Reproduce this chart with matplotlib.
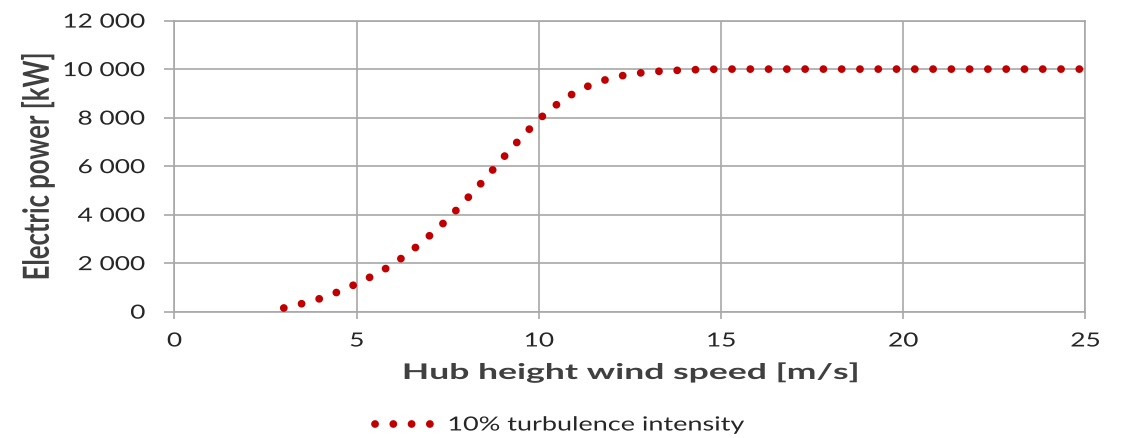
import matplotlib
matplotlib.use("Agg")
import matplotlib.pyplot as plt
from matplotlib.ticker import FuncFormatter, MultipleLocator
from matplotlib.patheffects import AbstractPathEffect
from matplotlib.transforms import Affine2D

wind_speed = [3.0, 3.5, 4.0, 4.5, 5.0, 5.5, 6.0, 6.5, 7.0, 7.5, 8.0, 8.5, 9.0, 9.5,
              10.0, 10.5, 11.0, 11.5, 12.0, 12.5, 13.0, 13.5, 14.0, 14.5, 15.0,
              15.5, 16.0, 16.5, 17.0, 17.5, 18.0, 18.5, 19.0, 19.5, 20.0, 20.5,
              21.0, 21.5, 22.0, 22.5, 23.0, 23.5, 24.0, 24.5, 25.0]
power_kw = [150, 330, 540, 820, 1150, 1520, 1950, 2500, 3130, 3810, 4610, 5430, 6310, 7150,
            7930, 8550, 9050, 9400, 9640, 9790, 9880, 9930, 9960, 9985, 10000,
            10000, 10000, 10000, 10000, 10000, 10000, 10000, 10000, 10000, 10000, 10000,
            10000, 10000, 10000, 10000, 10000, 10000, 10000, 10000, 10000]
series_label = "10% turbulence intensity"
x_label = "Hub height wind speed [m/s]"
y_label = "Electric power [kW]"

FONT = "Lato"
GRID = "#a8a8a8"
RED = "#c00000"


class HStretch(AbstractPathEffect):
    """Widen text horizontally (display x) about an anchor of its ink box."""

    def __init__(self, sx=1.4, anchor="center"):
        super().__init__()
        self.sx = sx
        self.anchor = anchor

    def draw_path(self, renderer, gc, tpath, affine, rgbFace=None):
        verts = affine.transform(tpath.vertices)
        if len(verts) == 0:
            renderer.draw_path(gc, tpath, affine, rgbFace)
            return
        xmin, xmax = verts[:, 0].min(), verts[:, 0].max()
        x0 = {"center": 0.5 * (xmin + xmax), "left": xmin, "right": xmax}[self.anchor]
        t = affine + Affine2D().translate(-x0, 0).scale(self.sx, 1.0).translate(x0, 0)
        renderer.draw_path(gc, tpath, t, rgbFace)


fig = plt.figure(figsize=(11.22, 4.38), dpi=100)
ax = fig.add_axes([0.1555, 0.2885, 0.8118, 0.6645])

ax.plot(wind_speed, power_kw, color=RED, linewidth=5.6,
        linestyle=(0, (0.01, 2.34)), dash_capstyle="round",
        solid_capstyle="round", label=series_label, zorder=3)

ax.set_xlim(0, 25)
ax.set_ylim(0, 12000)
ax.xaxis.set_major_locator(MultipleLocator(5))
ax.yaxis.set_major_locator(MultipleLocator(2000))
ax.yaxis.set_major_formatter(FuncFormatter(lambda v, p: f"{int(v):,}".replace(",", " ")))

ax.grid(True, color=GRID, linewidth=1.2, zorder=0)
ax.set_axisbelow(True)
for s in ax.spines.values():
    s.set_color(GRID)
    s.set_linewidth(1.2)

ax.tick_params(axis="y", length=7, width=1.2, color=GRID, pad=14,
               labelsize=14, labelcolor="#262626")
ax.tick_params(axis="x", length=5, width=1.2, color=GRID, pad=10,
               labelsize=14, labelcolor="#262626")

ax.set_xlabel(x_label, fontsize=15.5, fontweight="bold", color="#404040",
              fontfamily=FONT, labelpad=9)
ax.xaxis.label.set_path_effects([HStretch(1.65, "center")])
ax.set_ylabel(y_label, fontsize=18.5, fontweight="bold", color="#404040",
              fontfamily=FONT)
ax.yaxis.set_label_coords(-0.137, 0.5)
ax.yaxis.label.set_path_effects([HStretch(1.4, "center")])

leg = fig.legend(loc="center left", bbox_to_anchor=(375 / 1122, 0.0297),
                 frameon=False, borderpad=0, borderaxespad=0,
                 handlelength=2.85, handletextpad=0.87,
                 prop={"family": FONT, "size": 14})
for t in leg.get_texts():
    t.set_color("#262626")
    t.set_path_effects([HStretch(1.39, "left")])

fig.canvas.draw()
for lbl in ax.get_xticklabels():
    lbl.set_fontfamily(FONT)
    lbl.set_path_effects([HStretch(1.35, "center")])
for lbl in ax.get_yticklabels():
    lbl.set_fontfamily(FONT)
    lbl.set_path_effects([HStretch(1.35, "right")])

fig.savefig("out.png", dpi=100)
